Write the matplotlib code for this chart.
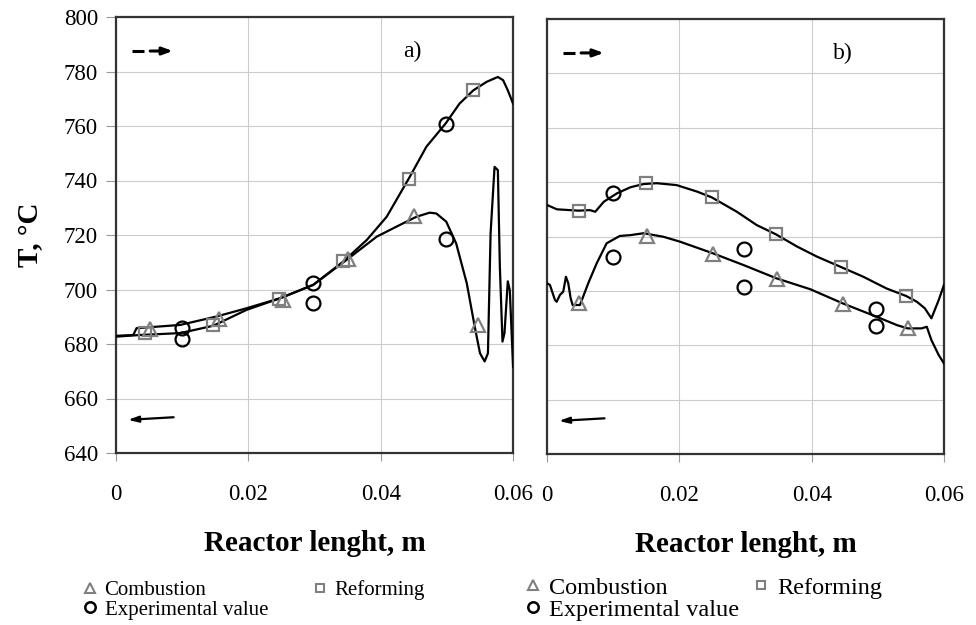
import matplotlib
matplotlib.use("Agg")
import matplotlib.pyplot as plt
from matplotlib.lines import Line2D

plt.rcParams['font.family'] = ['Liberation Serif', 'DejaVu Serif']

# panel a) - simulated profiles
a_comb_x = [0, 0.0026, 0.0031, 0.0097, 0.0152, 0.0197, 0.0248, 0.0298, 0.0348, 0.0394,
            0.0429, 0.0454, 0.0474, 0.0484, 0.0499, 0.0514, 0.0530, 0.0542, 0.0550,
            0.0557, 0.0562, 0.0566, 0.0572, 0.0577, 0.0580, 0.0584, 0.0587, 0.0592,
            0.0595, 0.0600]
a_comb_y = [683.0, 683.3, 685.8, 687.0, 690.1, 693.1, 696.8, 701.7, 710.8, 719.4,
            723.7, 726.7, 728.2, 727.9, 724.9, 716.9, 702.3, 686.4, 676.6,
            673.6, 676.6, 720.6, 745.0, 743.8, 708.4, 680.9, 684.0, 703.0,
            699.8, 671.7]
a_ref_x = [0, 0.0036, 0.0097, 0.0147, 0.0197, 0.0248, 0.0298, 0.0343, 0.0379, 0.0409,
           0.0444, 0.0469, 0.0498, 0.0519, 0.0540, 0.0560, 0.0577, 0.0585, 0.0592, 0.0600]
a_ref_y = [682.7, 683.3, 684.0, 686.7, 692.5, 696.8, 701.7, 710.2, 718.2, 726.7,
           741.4, 752.4, 760.9, 768.2, 773.1, 776.2, 778.0, 776.8, 773.1, 768.2]

# panel a) - markers
a_tri_x = [0.0051, 0.0155, 0.0253, 0.0351, 0.0451, 0.0547]
a_tri_y = [685.5, 689.1, 696.2, 711.1, 727.0, 687.0]
a_sq_x = [0.0044, 0.0147, 0.0247, 0.0343, 0.0443, 0.0540]
a_sq_y = [684.0, 687.0, 696.6, 710.6, 740.4, 773.1]
a_exp_x = [0.0099, 0.0099, 0.0298, 0.0298, 0.0498, 0.0498]
a_exp_y = [685.8, 681.8, 702.3, 695.0, 760.9, 718.4]

# panel b) - simulated profiles
b_comb_x = [0, 0.00045, 0.0012, 0.00147, 0.00196, 0.00246, 0.00287, 0.00322, 0.00358,
            0.00388, 0.00499, 0.00624, 0.00751, 0.00902, 0.0110, 0.0126, 0.0146, 0.0176,
            0.0201, 0.0251, 0.0297, 0.0347, 0.0398, 0.0447, 0.0498, 0.0529, 0.0545,
            0.0566, 0.0574, 0.0581, 0.0592, 0.0600]
b_comb_y = [702.8, 702.2, 696.7, 696.0, 698.5, 699.7, 705.2, 702.8, 697.3,
            694.8, 694.8, 702.8, 710.1, 717.5, 720.2, 720.5, 721.2, 719.9,
            718.1, 713.8, 709.5, 704.6, 700.6, 695.4, 690.5, 687.4, 686.2,
            686.2, 686.8, 681.9, 676.4, 673.3]
b_ref_x = [0, 0.0015, 0.0048, 0.0065, 0.0073, 0.0086, 0.0106, 0.0126, 0.0146, 0.0166,
           0.0196, 0.0227, 0.0249, 0.0287, 0.0317, 0.0346, 0.0378, 0.0408, 0.0445,
           0.0478, 0.0513, 0.0543, 0.0559, 0.0571, 0.0581, 0.0592, 0.0600]
b_ref_y = [731.6, 730.0, 729.5, 729.7, 729.1, 732.8, 735.9, 738.1, 739.3, 739.6,
           738.9, 736.5, 734.4, 729.1, 724.2, 720.8, 716.3, 712.6, 708.7,
           705.2, 700.9, 698.1, 696.0, 693.6, 689.9, 696.6, 702.2]

# panel b) - markers
b_tri_x = [0.0049, 0.0151, 0.0251, 0.0347, 0.0447, 0.0545]
b_tri_y = [695.7, 720.2, 713.4, 704.2, 695.0, 686.2]
b_sq_x = [0.0048, 0.0150, 0.0249, 0.0346, 0.0445, 0.0543]
b_sq_y = [729.5, 739.6, 734.4, 720.8, 708.7, 698.1]
b_exp_x = [0.0100, 0.0100, 0.0298, 0.0298, 0.0498, 0.0498]
b_exp_y = [736.1, 712.6, 715.3, 701.5, 693.2, 687.2]

xticks = [0, 0.02, 0.04, 0.06]
xticklabels = ['0', '0.02', '0.04', '0.06']
yticks = [640, 660, 680, 700, 720, 740, 760, 780, 800]

fig = plt.figure(figsize=(9.76, 6.25), dpi=100)
ax_a = fig.add_axes([0.1189, 0.2752, 0.4068, 0.6976])
ax_b = fig.add_axes([0.5604, 0.2736, 0.4068, 0.6960])

panels = [
    (ax_a, a_comb_x, a_comb_y, a_ref_x, a_ref_y, a_tri_x, a_tri_y, a_sq_x, a_sq_y, a_exp_x, a_exp_y, 'a)'),
    (ax_b, b_comb_x, b_comb_y, b_ref_x, b_ref_y, b_tri_x, b_tri_y, b_sq_x, b_sq_y, b_exp_x, b_exp_y, 'b)'),
]

for ax, cx, cy, rx, ry, tx, ty, sx, sy, ex, ey, tag in panels:
    ax.plot(cx, cy, color='k', lw=1.6, zorder=3)
    ax.plot(rx, ry, color='k', lw=1.6, zorder=3)
    ax.plot(tx, ty, ls='none', marker='^', ms=9.5, mfc='none', mec='#808080', mew=1.6, zorder=4)
    ax.plot(sx, sy, ls='none', marker='s', ms=8, mfc='none', mec='#808080', mew=1.6, zorder=4)
    ax.plot(ex, ey, ls='none', marker='o', ms=10, mfc='none', mec='k', mew=1.6, zorder=5)

    ax.set_xlim(0, 0.06)
    ax.set_ylim(640, 800)
    ax.set_xticks(xticks)
    ax.set_xticklabels(xticklabels)
    ax.set_yticks(yticks)
    ax.grid(True, color='#cccccc', lw=0.8)
    ax.set_axisbelow(True)
    for sp in ax.spines.values():
        sp.set_color('#333333')
        sp.set_linewidth(1.6)
    ax.tick_params(axis='x', direction='out', length=6, width=0.8, color='#999999',
                   pad=16, labelsize=16.5)
    ax.tick_params(axis='y', direction='out', length=7, width=0.8, color='#999999',
                   pad=6, labelsize=16.5)
    ax.set_xlabel('Reactor lenght, m', fontsize=21, fontweight='bold', labelpad=18)
    ax.text(0.745, 0.92, tag, transform=ax.transAxes, fontsize=17, ha='center', va='center')

    # flow direction arrows
    ax.plot([0.040, 0.070], [0.922, 0.922], transform=ax.transAxes, color='k', lw=2.2,
            solid_capstyle='butt')
    ax.annotate('', xy=(0.143, 0.922), xytext=(0.086, 0.922), xycoords='axes fraction',
                arrowprops=dict(arrowstyle='-|>,head_length=0.6,head_width=0.22',
                                color='k', lw=2.2, shrinkA=0, shrinkB=0))
    ax.annotate('', xy=(0.030, 0.076), xytext=(0.145, 0.082), xycoords='axes fraction',
                arrowprops=dict(arrowstyle='-|>,head_length=0.6,head_width=0.18',
                                color='k', lw=1.6, shrinkA=0, shrinkB=0))

ax_a.set_ylabel('T, °C', fontsize=21, fontweight='bold', labelpad=14)
ax_b.tick_params(axis='y', left=False, labelleft=False)

handles = [
    Line2D([], [], ls='none', marker='^', ms=6.5, mfc='none', mec='#808080', mew=1.5),
    Line2D([], [], ls='none', marker='o', ms=7.5, mfc='none', mec='k', mew=1.8),
    Line2D([], [], ls='none', marker='s', ms=6, mfc='none', mec='#808080', mew=1.5),
]
labels = ['Combustion', 'Experimental value', 'Reforming']

fig.legend(handles, labels, ncol=2, loc='upper left', bbox_to_anchor=(0.073, 0.0885),
           frameon=False, fontsize=15, handlelength=0.8, handletextpad=0.3,
           labelspacing=0.0, columnspacing=2.1, borderpad=0)
fig.legend(handles, labels, ncol=2, loc='upper left', bbox_to_anchor=(0.524, 0.097),
           frameon=False, fontsize=17.5, handlelength=0.8, handletextpad=0.25,
           labelspacing=0.0, columnspacing=0.5, borderpad=0)

fig.savefig('out.png', dpi=100)
